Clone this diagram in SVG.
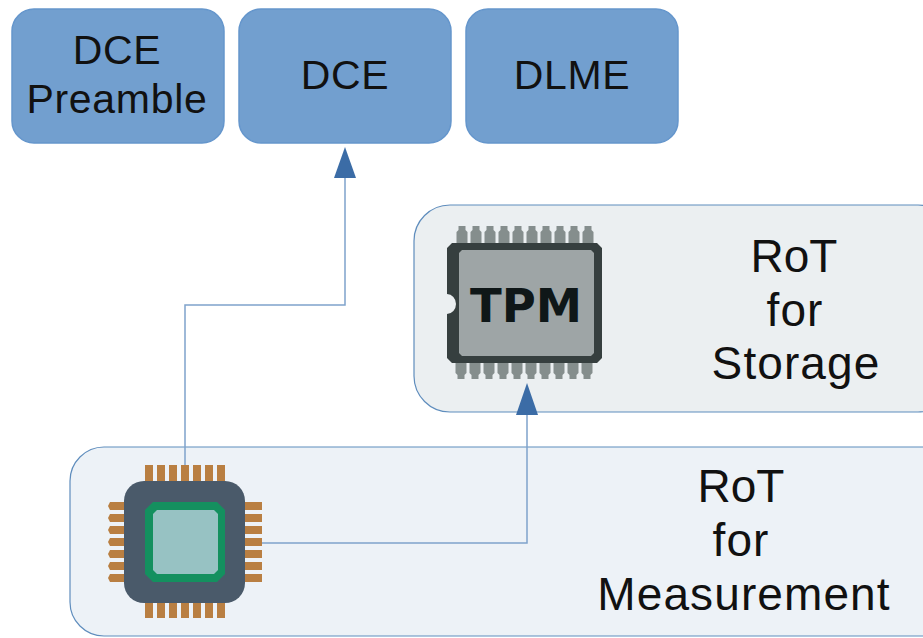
<svg xmlns="http://www.w3.org/2000/svg" width="923" height="638" viewBox="0 0 923 638">
<style>
.box{fill:#729fcf;stroke:#6596cc;stroke-width:1.5}
.panelS{fill:#ebeff1;stroke:#5f8dbd;stroke-width:1.2}
.panelM{fill:#edf2f7;stroke:#5f8dbd;stroke-width:1.2}
.t{font-family:"Liberation Sans",Arial,sans-serif;font-size:41px;letter-spacing:.7px;fill:#111;text-anchor:middle}
.l{font-family:"Liberation Sans",Arial,sans-serif;font-size:46px;letter-spacing:1.1px;fill:#111;text-anchor:middle}
.line{fill:none;stroke:#7fa3cc;stroke-width:1.5}
.head{fill:#3b6ca6}
.pin{fill:#858e8d}
.cp{fill:#b97f42}
</style>
<defs>
<path id="tp" class="pin" d="M-5.500 0V-11L-3.500-13V-17H3.500V-13L5.500-11V0Z"/>
<path id="bp" class="pin" d="M-5.500 0V11L-3.500 13V17H3.500V13L5.500 11V0Z"/>
<path id="cv" class="cp" d="M-4-10V8L0 11L4 8V-10Z"/>
<path id="cb" class="cp" d="M-4 10V-8L0-11L4-8V10Z"/>
<path id="cl" class="cp" d="M-11-4H7L11 0L7 4H-11L-13 0Z"/>
<path id="cr" class="cp" d="M11-4H-7L-11 0L-7 4H11Z"/>
</defs>
<g id="node-dce-preamble">
<rect class="box" x="12" y="9" width="212" height="134" rx="22"/>
<text class="t" x="117" y="64">DCE</text>
<text class="t" x="117" y="113">Preamble</text>
</g>
<g id="node-dce">
<rect class="box" x="239" y="9" width="212" height="134" rx="22"/>
<text class="t" x="345" y="89">DCE</text>
</g>
<g id="node-dlme">
<rect class="box" x="466" y="9" width="212" height="134" rx="22"/>
<text class="t" x="572" y="89">DLME</text>
</g>
<g id="node-rot-storage">
<rect class="panelS" x="414" y="205" width="540" height="207" rx="36"/>
<text class="l" x="794" y="272" style="letter-spacing:0">RoT</text>
<text class="l" x="795" y="326">for</text>
<text class="l" x="796" y="379">Storage</text>
<g id="tpm-chip">
<use href="#tp" x="462" y="243"/><use href="#tp" x="476" y="243"/><use href="#tp" x="490" y="243"/><use href="#tp" x="504" y="243"/><use href="#tp" x="518" y="243"/><use href="#tp" x="532" y="243"/><use href="#tp" x="546" y="243"/><use href="#tp" x="560" y="243"/><use href="#tp" x="574" y="243"/><use href="#tp" x="588" y="243"/>
<use href="#bp" x="461" y="362"/><use href="#bp" x="475" y="362"/><use href="#bp" x="489" y="362"/><use href="#bp" x="503" y="362"/><use href="#bp" x="517" y="362"/><use href="#bp" x="531" y="362"/><use href="#bp" x="545" y="362"/><use href="#bp" x="559" y="362"/><use href="#bp" x="573" y="362"/><use href="#bp" x="587" y="362"/>
<path d="M452 243H597L602 248V358L597 363H452L447 358V314A9 10 0 0 0 447 294V248Z" fill="#363f3f"/>
<path d="M462 250H591L594 253V353L591 356H462L459 353V253Z" fill="#9ea5a6"/>
<text x="526" y="322" font-family="'DejaVu Sans',sans-serif" font-weight="700" font-size="46.500" text-anchor="middle" fill="#0f1718">TPM</text>
</g>
</g>
<g id="node-rot-measurement">
<rect class="panelM" x="70" y="447" width="890" height="189" rx="34"/>
<text class="l" x="741" y="502" style="letter-spacing:0">RoT</text>
<text class="l" x="741" y="556">for</text>
<text class="l" x="744" y="610">Measurement</text>
<g id="cpu-chip">
<use href="#cv" x="149" y="475"/><use href="#cv" x="161" y="475"/><use href="#cv" x="173" y="475"/><use href="#cv" x="185" y="475"/><use href="#cv" x="197" y="475"/><use href="#cv" x="209" y="475"/><use href="#cv" x="221" y="475"/>
<use href="#cb" x="149" y="608"/><use href="#cb" x="161" y="608"/><use href="#cb" x="173" y="608"/><use href="#cb" x="185" y="608"/><use href="#cb" x="197" y="608"/><use href="#cb" x="209" y="608"/><use href="#cb" x="221" y="608"/>
<use href="#cl" x="121" y="506"/><use href="#cl" x="121" y="518"/><use href="#cl" x="121" y="530"/><use href="#cl" x="121" y="542"/><use href="#cl" x="121" y="554"/><use href="#cl" x="121" y="566"/><use href="#cl" x="121" y="578"/>
<use href="#cr" x="251" y="506"/><use href="#cr" x="251" y="518"/><use href="#cr" x="251" y="530"/><use href="#cr" x="251" y="542"/><use href="#cr" x="251" y="554"/><use href="#cr" x="251" y="566"/><use href="#cr" x="251" y="578"/>
<rect x="124" y="481" width="121" height="122" rx="20" fill="#4a5a6a"/>
<path d="M153 502H217L225 510V574L217 582H153L145 574V510Z" fill="#14905f"/>
<path d="M157 510H214L218 514V570L214 574H157L153 570V514Z" fill="#97c2c3"/>
</g>
</g>
<g id="connectors">
<path class="line" d="M185 465V305H345V178"/>
<path class="line" d="M262 543H527V415"/>
<path class="head" d="M345 147L356 178H334Z"/>
<path class="head" d="M527 383L538 415H516Z"/>
</g>
</svg>
